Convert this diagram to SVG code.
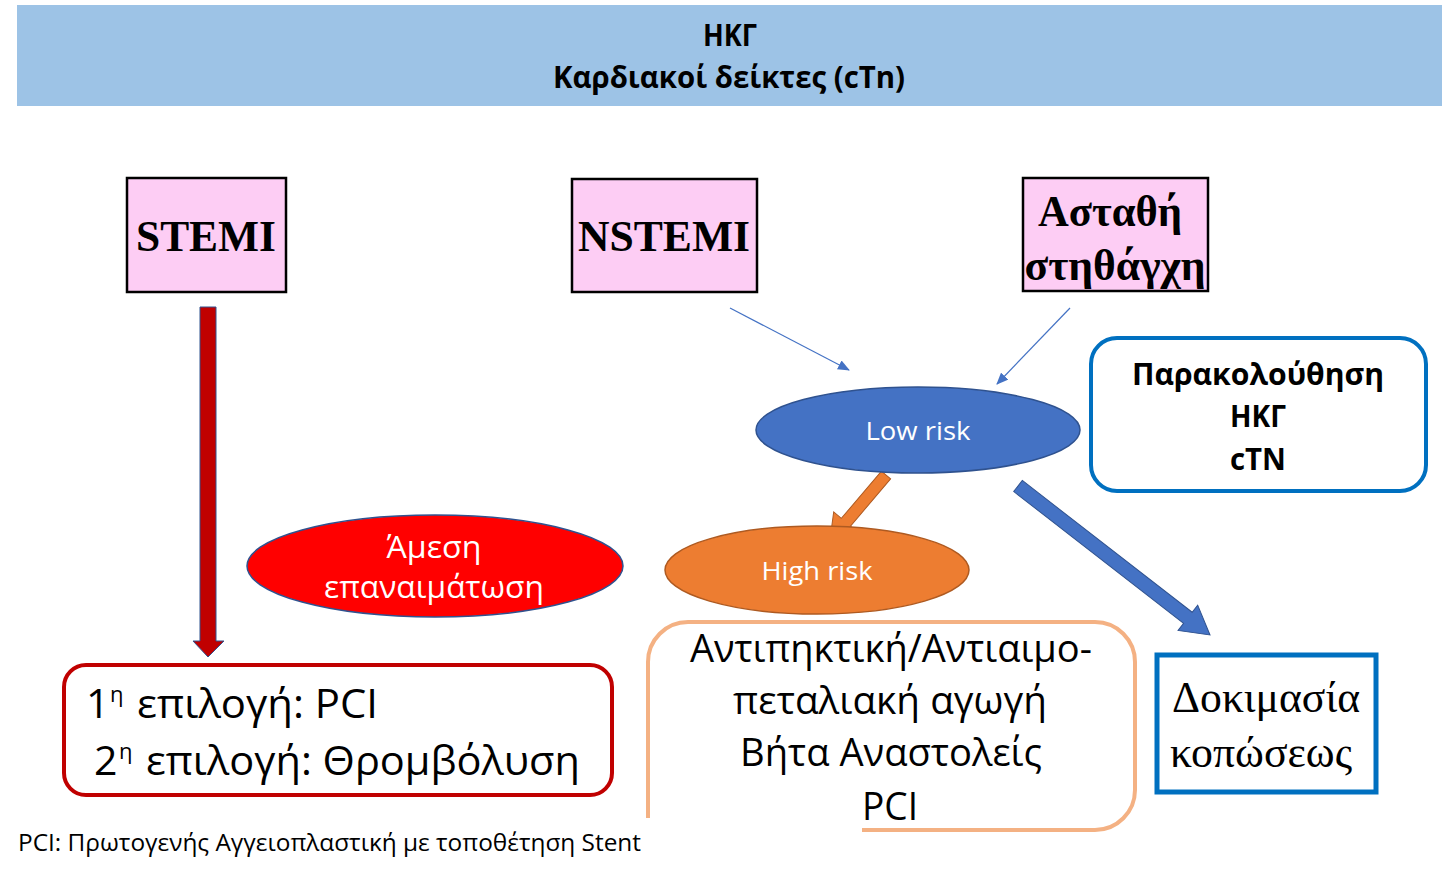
<svg xmlns="http://www.w3.org/2000/svg" width="1442" height="878" viewBox="0 0 1442 878">
<defs>
<style>
.ttl{font-family:"Open Sans","Noto Sans",sans-serif;font-weight:bold;font-size:30px;fill:#000;text-anchor:middle}
.pink rect{fill:#FDCDF4;stroke:#000;stroke-width:2.5}
.tb{font-family:"Liberation Serif","DejaVu Serif",serif;font-weight:bold;font-size:44px;fill:#000;text-anchor:middle}
.tr{font-family:"Liberation Serif","DejaVu Serif",serif;font-size:44px;fill:#000;text-anchor:middle}
.cal{font-family:"Open Sans","Noto Sans",sans-serif;fill:#000}
.wh{font-family:"Open Sans","Noto Sans",sans-serif;fill:#fff;text-anchor:middle}
.thin{stroke:#4472C4;stroke-width:1.2;fill:none}
</style>
<marker id="ah" viewBox="0 0 12 10" refX="11" refY="5" markerWidth="12" markerHeight="10" markerUnits="userSpaceOnUse" orient="auto">
<path d="M0,0 L12,5 L0,10 Z" fill="#4472C4"/>
</marker>
</defs>
<rect width="1442" height="878" fill="#fff"/>

<g id="header">
<rect x="17" y="5" width="1425" height="101" fill="#9DC3E6"/>
<text class="ttl" x="730" y="46" textLength="54" lengthAdjust="spacingAndGlyphs">ΗΚΓ</text>
<text class="ttl" x="729" y="88" textLength="352" lengthAdjust="spacingAndGlyphs">Καρδιακοί δείκτες (cTn)</text>
</g>

<g id="stemi" class="pink">
<rect x="127" y="178" width="159" height="114"/>
<text class="tb" x="206" y="251" textLength="140" lengthAdjust="spacingAndGlyphs">STEMI</text>
</g>

<g id="nstemi" class="pink">
<rect x="572" y="179" width="185" height="113"/>
<text class="tb" x="664" y="251" textLength="172" lengthAdjust="spacingAndGlyphs">NSTEMI</text>
</g>

<g id="unstable" class="pink">
<rect x="1023" y="178" width="185" height="113"/>
<text class="tb" x="1110" y="226" textLength="144" lengthAdjust="spacingAndGlyphs">Ασταθή</text>
<text class="tb" x="1115" y="280" textLength="181" lengthAdjust="spacingAndGlyphs">στηθάγχη</text>
</g>

<g id="connectors">
<polygon points="200,307 216,307 216,641 224,641 208,657 193,641 200,641" fill="#C00000" stroke="#2F528F" stroke-width="1"/>
<line class="thin" x1="730" y1="308" x2="849" y2="370" marker-end="url(#ah)"/>
<line class="thin" x1="1070" y1="308" x2="997" y2="384" marker-end="url(#ah)"/>
<polygon transform="translate(886,475) rotate(130.3)" points="0,-6 62,-6 62,-16 87,0 62,16 62,6 0,6" fill="#ED7D31" stroke="#AE5A21" stroke-width="1"/>
<polygon transform="translate(1018,486) rotate(37.8)" points="0,-7 215,-7 215,-16 243,0 215,16 215,7 0,7" fill="#4472C4" stroke="#2F528F" stroke-width="1"/>
</g>

<g id="lowrisk">
<ellipse cx="918" cy="430" rx="162" ry="43" fill="#4472C4" stroke="#2F528F" stroke-width="1.5"/>
<text class="wh" x="918" y="440" font-size="26" textLength="105" lengthAdjust="spacingAndGlyphs">Low risk</text>
</g>

<g id="monitor">
<rect x="1091" y="338" width="335" height="153" rx="26" fill="#fff" stroke="#0070C0" stroke-width="4"/>
<text class="cal" x="1258" y="385" font-size="31" font-weight="bold" text-anchor="middle" textLength="252" lengthAdjust="spacingAndGlyphs">Παρακολούθηση</text>
<text class="cal" x="1258" y="427" font-size="31" font-weight="bold" text-anchor="middle" textLength="56" lengthAdjust="spacingAndGlyphs">ΗΚΓ</text>
<text class="cal" x="1258" y="470" font-size="31" font-weight="bold" text-anchor="middle" textLength="56" lengthAdjust="spacingAndGlyphs">cTN</text>
</g>

<g id="highrisk">
<ellipse cx="817" cy="570" rx="152" ry="44" fill="#ED7D31" stroke="#AE5A21" stroke-width="1.5"/>
<text class="wh" x="817" y="580" font-size="26" textLength="111" lengthAdjust="spacingAndGlyphs">High risk</text>
</g>

<g id="revasc">
<ellipse cx="435" cy="566" rx="188" ry="51" fill="#FF0000" stroke="#2F528F" stroke-width="1.5"/>
<text class="wh" x="434" y="558" font-size="31" textLength="95" lengthAdjust="spacingAndGlyphs">Άμεση</text>
<text class="wh" x="434" y="598" font-size="31" textLength="220" lengthAdjust="spacingAndGlyphs">επαναιμάτωση</text>
</g>

<g id="choices">
<rect x="64" y="665" width="548" height="130" rx="22" fill="#fff" stroke="#C00000" stroke-width="4"/>
<text class="cal" x="86" y="718" font-size="41">1</text>
<text class="cal" x="110" y="702" font-size="22">η</text>
<text class="cal" x="137" y="718" font-size="41" textLength="241" lengthAdjust="spacingAndGlyphs">επιλογή: PCI</text>
<text class="cal" x="94" y="775" font-size="41">2</text>
<text class="cal" x="119" y="759" font-size="22">η</text>
<text class="cal" x="146" y="775" font-size="41" textLength="434" lengthAdjust="spacingAndGlyphs">επιλογή: Θρομβόλυση</text>
</g>

<g id="treatment">
<path d="M862,830 H1095 A40,40 0 0 0 1135,790 V662 A40,40 0 0 0 1095,622 H688 A40,40 0 0 0 648,662 V818" fill="none" stroke="#F4B183" stroke-width="4"/>
<text class="cal" x="891" y="662" font-size="38" text-anchor="middle" textLength="402" lengthAdjust="spacingAndGlyphs">Αντιπηκτική/Αντιαιμο-</text>
<text class="cal" x="890" y="714" font-size="38" text-anchor="middle" textLength="314" lengthAdjust="spacingAndGlyphs">πεταλιακή αγωγή</text>
<text class="cal" x="891" y="766" font-size="38" text-anchor="middle" textLength="302" lengthAdjust="spacingAndGlyphs">Βήτα Αναστολείς</text>
<text class="cal" x="890" y="820" font-size="38" text-anchor="middle" textLength="56" lengthAdjust="spacingAndGlyphs">PCI</text>
</g>

<g id="stress">
<rect x="1157" y="655" width="219" height="137" fill="#fff" stroke="#0070C0" stroke-width="5"/>
<text class="tr" x="1266" y="712" textLength="188" lengthAdjust="spacingAndGlyphs">Δοκιμασία</text>
<text class="tr" x="1261" y="767" textLength="182" lengthAdjust="spacingAndGlyphs">κοπώσεως</text>
</g>

<g id="footnote">
<text class="cal" x="18" y="851" font-size="23" textLength="623" lengthAdjust="spacingAndGlyphs">PCI: Πρωτογενής Αγγειοπλαστική με τοποθέτηση Stent</text>
</g>
</svg>
